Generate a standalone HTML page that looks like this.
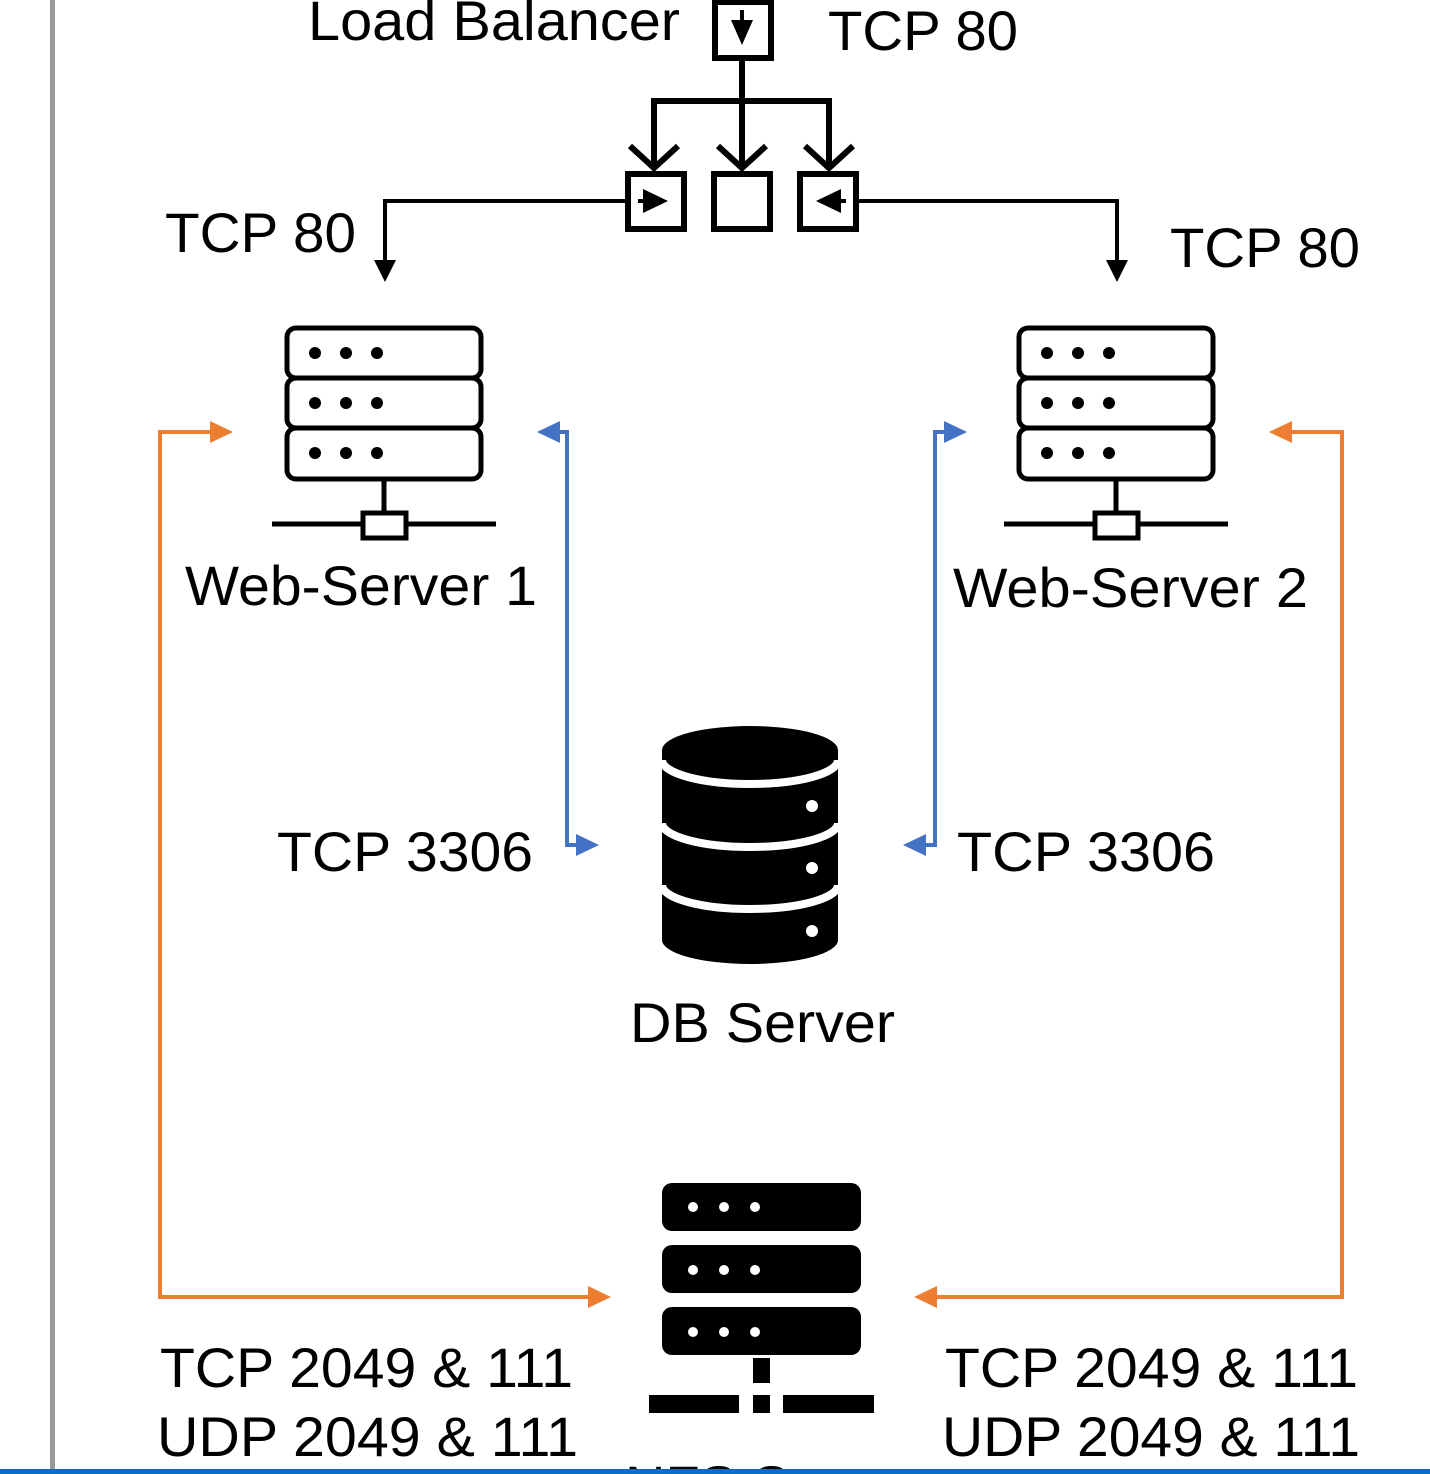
<!DOCTYPE html>
<html><head><style>
html,body{margin:0;padding:0;background:#fff;}
svg{display:block;}
text{font-family:"Liberation Sans",sans-serif;font-size:56px;fill:#000;}
</style></head><body>
<svg width="1430" height="1474" viewBox="0 0 1430 1474" xmlns="http://www.w3.org/2000/svg">
<rect x="0" y="0" width="1430" height="1474" fill="#fff"/>
<rect x="50" y="0" width="5" height="1470" fill="#999"/>

<!-- Load balancer -->
<g stroke="#000" stroke-width="6" fill="none">
<rect x="715" y="2" width="56" height="56"/>
<line x1="742" y1="58" x2="742" y2="168"/>
<polyline points="654,166 654,101 829,101 829,166"/>
<polyline points="630,146 654,168 678,146"/>
<polyline points="718,146 742,168 766,146"/>
<polyline points="805,146 829,168 853,146"/>
<rect x="628" y="174" width="56" height="55"/>
<rect x="714" y="174" width="56" height="55"/>
<rect x="800" y="174" width="56" height="55"/>
</g>
<path d="M742,10 L742,24" stroke="#000" stroke-width="4"/>
<path d="M731,20 L753,20 L742,45 Z"/>
<path d="M638,201 L648,201" stroke="#000" stroke-width="4"/>
<path d="M643,189 L668,201 L643,213 Z"/>
<path d="M846,201 L836,201" stroke="#000" stroke-width="4"/>
<path d="M841,189 L816,201 L841,213 Z"/>
<g stroke="#000" stroke-width="4" fill="none">
<polyline points="628,201 385,201 385,262"/>
<polyline points="856,201 1117,201 1117,262"/>
</g>
<path d="M374,260 L396,260 L385,282 Z"/>
<path d="M1106,260 L1128,260 L1117,282 Z"/>

<!-- Web servers -->
<g id="ws">
<g stroke="#000" stroke-width="5" fill="#fff">
<rect x="287" y="328" width="194" height="50" rx="9"/>
<rect x="287" y="378" width="194" height="50" rx="9"/>
<rect x="287" y="428" width="194" height="51" rx="9"/>
<line x1="384" y1="479" x2="384" y2="513"/>
<line x1="272" y1="524" x2="496" y2="524"/>
<rect x="363" y="513" width="43" height="25"/>
</g>
<g fill="#000">
<circle cx="315" cy="353" r="6"/><circle cx="346" cy="353" r="6"/><circle cx="377" cy="353" r="6"/>
<circle cx="315" cy="403" r="6"/><circle cx="346" cy="403" r="6"/><circle cx="377" cy="403" r="6"/>
<circle cx="315" cy="453" r="6"/><circle cx="346" cy="453" r="6"/><circle cx="377" cy="453" r="6"/>
</g>
</g>
<use href="#ws" x="732" y="0"/>

<!-- DB -->
<path d="M662,750 A88,24 0 0 1 838,750 L838,940 A88,24 0 0 1 662,940 Z" fill="#000"/>
<g stroke="#fff" stroke-width="8" fill="none">
<path d="M662,760 A88,24 0 0 0 838,760"/>
<path d="M662,823 A88,24 0 0 0 838,823"/>
<path d="M662,885 A88,24 0 0 0 838,885"/>
</g>
<g fill="#fff">
<circle cx="812" cy="806" r="6"/><circle cx="812" cy="868" r="6"/><circle cx="812" cy="931" r="6"/>
</g>

<!-- NFS -->
<g fill="#000">
<rect x="662" y="1183" width="199" height="48" rx="10"/>
<rect x="662" y="1245" width="199" height="48" rx="10"/>
<rect x="662" y="1307" width="199" height="48" rx="10"/>
<rect x="753" y="1358" width="17" height="25"/>
<rect x="649" y="1395" width="90" height="18"/>
<rect x="753" y="1395" width="17" height="18"/>
<rect x="783" y="1395" width="91" height="18"/>
</g>
<g fill="#fff">
<circle cx="693" cy="1207" r="5"/><circle cx="724" cy="1207" r="5"/><circle cx="755" cy="1207" r="5"/>
<circle cx="693" cy="1270" r="5"/><circle cx="724" cy="1270" r="5"/><circle cx="755" cy="1270" r="5"/>
<circle cx="693" cy="1332" r="5"/><circle cx="724" cy="1332" r="5"/><circle cx="755" cy="1332" r="5"/>
</g>

<!-- Orange -->
<g stroke="#ed7d31" stroke-width="4" fill="none">
<polyline points="212,432 160,432 160,1297 590,1297"/>
<polyline points="1290,432 1342,432 1342,1297 935,1297"/>
</g>
<g fill="#ed7d31">
<path d="M210,421 L233,432 L210,443 Z"/>
<path d="M588,1286 L611,1297 L588,1308 Z"/>
<path d="M1292,421 L1269,432 L1292,443 Z"/>
<path d="M937,1286 L914,1297 L937,1308 Z"/>
</g>

<!-- Blue -->
<g stroke="#4472c4" stroke-width="4" fill="none">
<polyline points="556,432 567,432 567,845 578,845"/>
<polyline points="946,432 935,432 935,845 924,845"/>
</g>
<g fill="#4472c4">
<path d="M560,421 L537,432 L560,443 Z"/>
<path d="M576,834 L599,845 L576,856 Z"/>
<path d="M944,421 L967,432 L944,443 Z"/>
<path d="M926,834 L903,845 L926,856 Z"/>
</g>

<!-- Text -->
<text x="308" y="40" textLength="372" lengthAdjust="spacingAndGlyphs">Load Balancer</text>
<text x="828" y="50" textLength="190" lengthAdjust="spacingAndGlyphs">TCP 80</text>
<text x="165" y="252" textLength="191" lengthAdjust="spacingAndGlyphs">TCP 80</text>
<text x="1170" y="267" textLength="190" lengthAdjust="spacingAndGlyphs">TCP 80</text>
<text x="185" y="605" textLength="352" lengthAdjust="spacingAndGlyphs">Web-Server 1</text>
<text x="953" y="607" textLength="355" lengthAdjust="spacingAndGlyphs">Web-Server 2</text>
<text x="277" y="871" textLength="256" lengthAdjust="spacingAndGlyphs">TCP 3306</text>
<text x="957" y="871" textLength="258" lengthAdjust="spacingAndGlyphs">TCP 3306</text>
<text x="630" y="1042" textLength="265" lengthAdjust="spacingAndGlyphs">DB Server</text>
<text x="160" y="1387" textLength="413" lengthAdjust="spacingAndGlyphs">TCP 2049 &amp; 111</text>
<text x="157" y="1456" textLength="421" lengthAdjust="spacingAndGlyphs">UDP 2049 &amp; 111</text>
<text x="945" y="1387" textLength="413" lengthAdjust="spacingAndGlyphs">TCP 2049 &amp; 111</text>
<text x="942" y="1456" textLength="418" lengthAdjust="spacingAndGlyphs">UDP 2049 &amp; 111</text>
<text x="625" y="1505">NFS Server</text>
<rect x="0" y="1469" width="1430" height="5" fill="#0a6fc2"/>
</svg>
</body></html>
